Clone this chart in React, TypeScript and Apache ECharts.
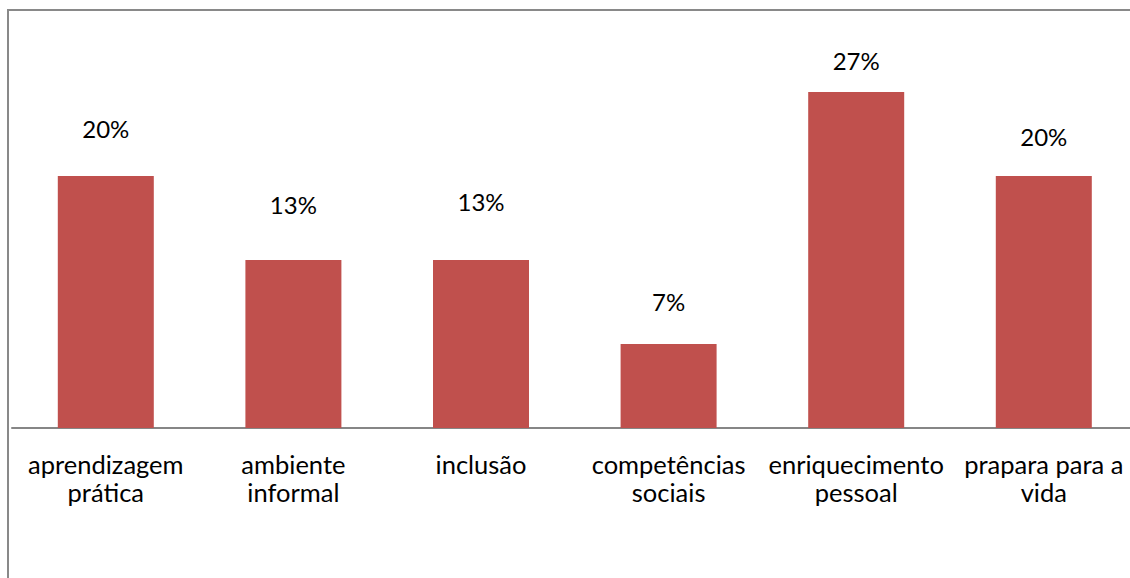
import React, { useEffect, useRef } from "react";
import * as echarts from "echarts";

const categories = [
  "aprendizagem\nprática",
  "ambiente\ninformal",
  "inclusão",
  "competências\nsociais",
  "enriquecimento\npessoal",
  "prapara para a\nvida",
];
const values = [20, 13.33, 13.33, 6.67, 26.67, 20];
// gap between bar top and its data label box (manually placed labels in the original)
const labelGap = [36, 44, 47, 30, 19, 28];

export default function App() {
  const ref = useRef<HTMLDivElement>(null);
  useEffect(() => {
    if (!ref.current) return;
    const chart = echarts.init(ref.current, null, { renderer: "svg" });
    const font = "Lato, 'Open Sans', sans-serif";
    chart.setOption({
      animation: false,
      textStyle: { fontFamily: font },
      grid: { left: 12, top: 50, right: 2.4, height: 378, containLabel: false },
      xAxis: {
        type: "category",
        data: categories,
        axisLine: { show: true, lineStyle: { color: "#868686", width: 2 } },
        axisTick: { show: false },
        axisLabel: {
          interval: 0,
          margin: 22,
          color: "#000000",
          fontFamily: font,
          fontSize: 25.5,
          lineHeight: 28,
        },
      },
      yAxis: {
        type: "value",
        min: 0,
        max: 30,
        show: false,
        splitLine: { show: false },
      },
      series: [
        {
          type: "bar",
          barWidth: 96,
          itemStyle: { color: "#C0504D" },
          data: values.map((v, i) => ({
            value: v,
            label: { distance: labelGap[i] },
          })),
          label: {
            show: true,
            position: "top",
            color: "#000000",
            fontFamily: font,
            fontSize: 24,
            lineHeight: 24,
            formatter: (p: any) => Math.round(p.value) + "%",
          },
        },
      ],
    });
    return () => chart.dispose();
  }, []);
  return (
    <div
      style={{
        position: "fixed",
        left: 0,
        top: 0,
        width: 1130,
        height: 578,
        overflow: "hidden",
        background: "#fff",
      }}
    >
      <div ref={ref} style={{ position: "absolute", left: 0, top: 0, width: 1140, height: 578 }} />
      <div
        style={{
          position: "absolute",
          left: 7,
          top: 9,
          width: 3000,
          height: 3000,
          borderTop: "2px solid #898989",
          borderLeft: "2px solid #898989",
          pointerEvents: "none",
        }}
      />
    </div>
  );
}
